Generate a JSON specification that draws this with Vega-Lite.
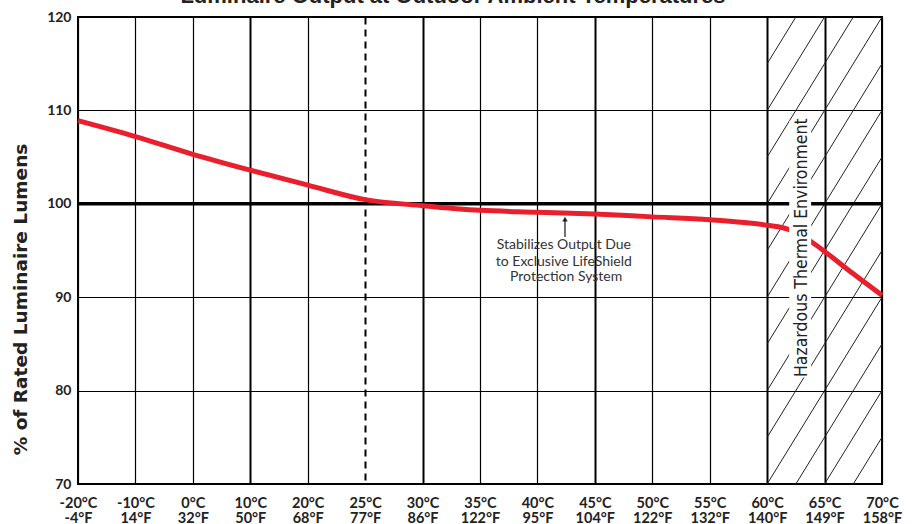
{
  "$schema": "https://vega.github.io/schema/vega-lite/v6.json",
  "width": 804,
  "height": 467,
  "autosize": "none",
  "padding": {"left": 78, "top": 17, "right": 32, "bottom": 40},
  "background": "white",
  "title": {
    "text": "Luminaire Output at Outdoor Ambient Temperatures",
    "font": "Liberation Sans",
    "fontSize": 22,
    "fontWeight": "bold",
    "color": "#222",
    "anchor": "middle",
    "frame": "group",
    "baseline": "alphabetic",
    "offset": 5,
    "dx": -27,
    "dy": 20
  },
  "config": {
    "view": {"stroke": "#000", "strokeWidth": 2}
  },
  "encoding": {
    "x": {
      "field": "x",
      "type": "quantitative",
      "scale": {"domain": [-20, 20, 70], "range": [0, 229.7, 804], "nice": false, "zero": false},
      "axis": {
        "values": [-20, -10, 0, 10, 20, 25, 30, 35, 40, 45, 50, 55, 60, 65, 70],
        "grid": true,
        "gridColor": "#000",
        "gridOpacity": 1,
        "gridWidth": {"condition": {"test": "indexof([10, 25, 30, 45, 60, 65], datum.value) >= 0", "value": 2}, "value": 1.2},
        "gridDash": {"condition": {"test": "datum.value === 25", "value": [7, 5]}, "value": []},
        "domain": false,
        "ticks": false,
        "labelPadding": 12,
        "labelFont": "Lato",
        "labelFontWeight": "bold",
        "labelFontSize": 14.5,
        "labelColor": "#222",
        "labelLineHeight": 15,
        "labelFlush": false,
        "labelOverlap": false,
        "labelBound": false,
        "labelExpr": "[datum.value + '°C', ['-4°F','14°F','32°F','50°F','68°F','77°F','86°F','122°F','95°F','104°F','122°F','132°F','140°F','149°F','158°F'][indexof([-20,-10,0,10,20,25,30,35,40,45,50,55,60,65,70], datum.value)]]",
        "title": null
      }
    },
    "y": {
      "field": "y",
      "type": "quantitative",
      "scale": {"domain": [70, 120], "nice": false, "zero": false},
      "axis": {
        "values": [70, 80, 90, 100, 110, 120],
        "grid": true,
        "gridColor": "#000",
        "gridOpacity": 1,
        "gridWidth": 1.2,
        "domain": false,
        "ticks": false,
        "labelPadding": 7,
        "labelFont": "Lato",
        "labelFontWeight": "bold",
        "labelFontSize": 14,
        "labelColor": "#222",
        "title": "% of Rated Luminaire Lumens",
        "titleFont": "DejaVu Sans",
        "titleFontWeight": "bold",
        "titleFontSize": 18.5,
        "titleColor": "#222",
        "titleAngle": 270,
        "titleAlign": "center",
        "titleBaseline": "middle",
        "titleX": -58,
        "titleY": 282
      }
    }
  },
  "layer": [
    {
      "data": {"values": [
        {"x": 62.5, "y": 120, "x2": 60, "y2": 115},
        {"x": 65, "y": 120, "x2": 60, "y2": 110},
        {"x": 67.5, "y": 120, "x2": 60, "y2": 105},
        {"x": 70, "y": 120, "x2": 60, "y2": 100},
        {"x": 70, "y": 115, "x2": 60, "y2": 95},
        {"x": 70, "y": 110, "x2": 60, "y2": 90},
        {"x": 70, "y": 105, "x2": 60, "y2": 85},
        {"x": 70, "y": 100, "x2": 60, "y2": 80},
        {"x": 70, "y": 95, "x2": 60, "y2": 75},
        {"x": 70, "y": 90, "x2": 60, "y2": 70},
        {"x": 70, "y": 85, "x2": 62.5, "y2": 70},
        {"x": 70, "y": 80, "x2": 65, "y2": 70},
        {"x": 70, "y": 75, "x2": 67.5, "y2": 70}
      ]},
      "mark": {"type": "rule", "color": "#222", "strokeWidth": 1},
      "encoding": {
        "x2": {"field": "x2"},
        "y2": {"field": "y2"}
      }
    },
    {
      "data": {"values": [{"x": -20, "x2": 70, "y": 100}]},
      "mark": {"type": "rule", "color": "#000", "strokeWidth": 3.5},
      "encoding": {"x2": {"field": "x2"}}
    },
    {
      "data": {"values": [
        {"x": -20, "y": 108.9},
        {"x": -10, "y": 107.2},
        {"x": 0, "y": 105.3},
        {"x": 10, "y": 103.6},
        {"x": 20, "y": 102.0},
        {"x": 25, "y": 100.45},
        {"x": 30, "y": 99.8},
        {"x": 35, "y": 99.3},
        {"x": 40, "y": 99.1},
        {"x": 45, "y": 98.9},
        {"x": 50, "y": 98.6},
        {"x": 55, "y": 98.3},
        {"x": 58, "y": 98.0},
        {"x": 60, "y": 97.7},
        {"x": 62, "y": 97.2},
        {"x": 64, "y": 95.8},
        {"x": 65, "y": 94.9},
        {"x": 67.5, "y": 92.5},
        {"x": 70, "y": 90.2}
      ]},
      "mark": {"type": "line", "color": "#e8202e", "strokeWidth": 5, "interpolate": "monotone", "strokeCap": "butt"}
    },
    {
      "data": {"values": [{"x": 61.92, "x2": 63.83, "y": 108.9, "y2": 81.4}]},
      "mark": {"type": "rect", "fill": "white"},
      "encoding": {"x2": {"field": "x2"}, "y2": {"field": "y2"}}
    },
    {
      "data": {"values": [{"x": 63.0, "y": 95.3, "label": "Hazardous Thermal Environment"}]},
      "mark": {"type": "text", "angle": 270, "align": "center", "baseline": "middle", "font": "Liberation Sans Narrow, DejaVu Sans Condensed, Liberation Sans", "fontSize": 17.5, "color": "#222"},
      "encoding": {"text": {"field": "label"}}
    },
    {
      "data": {"values": [{"x": 42.4, "y": 96.45, "y2": 98.2}]},
      "mark": {"type": "rule", "color": "#222", "strokeWidth": 1.3},
      "encoding": {"y2": {"field": "y2"}}
    },
    {
      "data": {"values": [{"x": 42.4, "y": 98.35}]},
      "mark": {"type": "point", "shape": "triangle-up", "filled": true, "color": "#222", "size": 30, "opacity": 1}
    },
    {
      "data": {"values": [
        {"x": 42.3, "y": 95.13, "label": "Stabilizes Output Due"},
        {"x": 42.3, "y": 93.34, "label": "to Exclusive LifeShield"},
        {"x": 42.5, "y": 91.77, "label": "Protection System"}
      ]},
      "mark": {"type": "text", "align": "center", "baseline": "alphabetic", "font": "Lato", "fontSize": 14, "color": "#333"},
      "encoding": {"text": {"field": "label"}}
    }
  ]
}
